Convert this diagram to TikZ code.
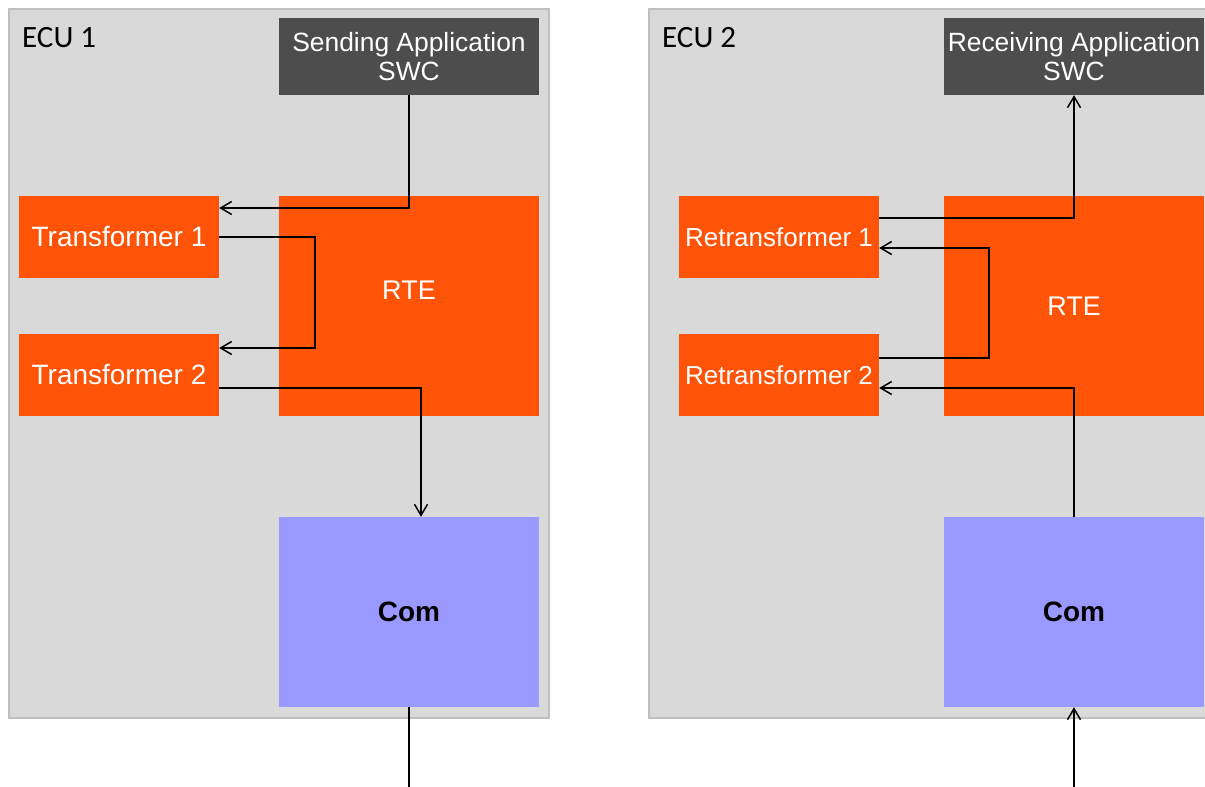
\documentclass[tikz,border=0pt]{standalone}
\usepackage{fontspec}
\setmainfont{Liberation Sans}
\newfontfamily\ecufont{Carlito}
\usetikzlibrary{arrows.meta}
\definecolor{ecufill}{HTML}{D9D9D9}
\definecolor{eculine}{HTML}{BFBFBF}
\definecolor{swcfill}{HTML}{4D4D4D}
\definecolor{rtefill}{HTML}{FF5308}
\definecolor{comfill}{HTML}{9999FF}
\tikzset{
  ecubox/.style={draw=eculine, line width=2pt, fill=ecufill, inner sep=0pt},
  swcbox/.style={fill=swcfill, text=white, inner sep=0pt, minimum width=260pt, minimum height=77pt, align=center, font=\fontsize{26.4}{29}\selectfont},
  tfbox/.style={fill=rtefill, text=white, inner sep=0pt, minimum width=200pt, minimum height=82pt, font=\fontsize{28}{30}\selectfont},
  rtebox/.style={fill=rtefill, text=white, inner sep=0pt, minimum width=260pt, minimum height=220pt, font=\fontsize{27}{30}\selectfont},
  combox/.style={fill=comfill, text=black, inner sep=0pt, minimum width=260pt, minimum height=190pt, font=\fontsize{28}{30}\selectfont\bfseries},
  ecutext/.style={inner sep=0pt, anchor=base west, font=\ecufont\fontsize{31}{34}\selectfont},
  conn/.style={line width=1.5pt, black},
  arr/.style={conn, -{Straight Barb[length=11pt,width=13pt,line width=1.5pt]}}
}
\begin{document}
\begin{tikzpicture}[x=1pt,y=-1pt]
\useasboundingbox (0,0) rectangle (1205,787);
\clip (0,0) rectangle (1205,787);
% ECU frames
\node[ecubox, minimum width=540pt, minimum height=709pt] (ecu1) at (279,363.5) {};
\node[ecubox, minimum width=620pt, minimum height=709pt] (ecu2) at (959,363.5) {};
\node[ecutext] (ecu1lbl) at (22,47) {ECU 1};
\node[ecutext] (ecu2lbl) at (662,47) {ECU 2};
% ECU 1
\node[swcbox] (swc1) at (409,56.5) {Sending Application\\SWC};
\node[tfbox] (t1) at (119,237) {Transformer 1};
\node[tfbox] (t2) at (119,375) {Transformer 2};
\node[rtebox] (rte1) at (409,306) {\raisebox{31pt}{RTE}};
\node[combox] (com1) at (409,612) {Com};
\coordinate (bot1) at (409,790);
% ECU 2
\node[swcbox] (swc2) at (1074,56.5) {Receiving Application\\SWC};
\node[tfbox, font=\fontsize{26}{28}\selectfont] (r1) at (779,237) {Retransformer 1};
\node[tfbox, font=\fontsize{26}{28}\selectfont] (r2) at (779,375) {Retransformer 2};
\node[rtebox] (rte2) at (1074,306) {RTE};
\node[combox] (com2) at (1074,612) {Com};
\coordinate (bot2) at (1074,790);
% connectors ECU 1
\draw[arr] (swc1.south) |- ([yshift=29pt]t1.east);
\draw[arr] (t1.east) -- ++(96,0) |- ([yshift=27pt]t2.east);
\draw[arr] ([yshift=-13pt]t2.east) -| ([xshift=12pt]com1.north);
\draw[conn] (com1.south) -- (bot1);
% connectors ECU 2
\draw[arr] ([yshift=19pt]r1.east) -| (swc2.south);
\draw[arr] ([yshift=17pt]r2.east) -- ++(110,0) |- ([yshift=-11pt]r1.east);
\draw[arr] (com2.north) |- ([yshift=-13pt]r2.east);
\draw[arr] (bot2) -- (com2.south);
\end{tikzpicture}
\end{document}
